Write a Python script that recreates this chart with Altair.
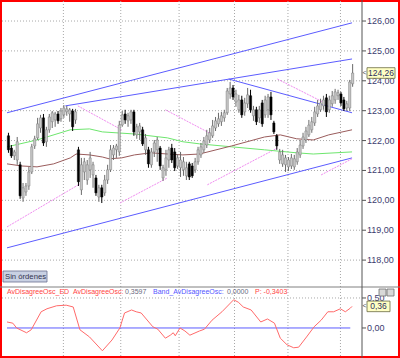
import altair as alt
import pandas as pd

# ---------------- data ----------------
opens = [122.16, 121.75, 121.49, 121.35, 121.19, 120.08, 120.28, 120.48, 120.95, 121.82,
         122.09, 122.42, 122.76, 121.96, 122.36, 122.63, 122.69, 122.89, 122.73, 122.86,
         122.96, 122.89, 122.99, 122.69, 121.69, 120.35, 120.95, 120.68, 121.02, 120.85,
         120.75, 120.11, 120.42, 120.25, 120.68, 121.02, 121.52, 121.69, 121.62, 122.52,
         122.89, 122.66, 122.69, 122.96, 122.19, 122.29, 122.36, 121.69, 121.69, 121.19,
         121.62, 121.69, 121.75, 120.75, 121.02, 121.35, 121.75, 121.62, 121.15, 121.09,
         121.02, 120.82, 121.22, 121.15, 121.02, 121.29, 121.52, 121.69, 121.85, 122.02,
         122.16, 122.42, 122.56, 122.63, 122.76, 122.93, 123.56, 123.76, 123.29, 123.03,
         123.36, 122.96, 123.23, 123.50, 122.83, 123.03, 122.76, 123.26, 122.86, 123.03,
         123.46, 122.59, 122.16, 121.35, 121.22, 121.19, 121.12, 121.15, 121.12, 121.29,
         121.52, 121.82, 122.02, 122.19, 122.36, 122.59, 122.89, 123.03, 123.16, 123.43,
         123.03, 123.23, 123.36, 123.50, 123.56, 123.36, 123.09, 123.09, 123.90]
highs = [122.26, 121.85, 121.69, 122.12, 121.29, 120.58, 120.58, 121.12, 121.89, 122.16,
         122.76, 122.86, 122.89, 122.46, 122.89, 122.99, 122.96, 122.99, 123.09, 123.19,
         123.16, 123.09, 123.06, 123.06, 121.79, 121.42, 121.42, 121.35, 121.62, 121.29,
         120.85, 120.52, 120.52, 120.85, 121.19, 121.85, 121.85, 121.89, 122.66, 122.99,
         123.03, 122.93, 123.03, 123.03, 122.56, 122.59, 122.46, 122.22, 121.79, 121.75,
         122.02, 122.12, 121.82, 121.19, 121.69, 121.79, 121.89, 121.75, 121.55, 121.62,
         121.45, 121.29, 121.29, 121.25, 121.42, 121.79, 121.92, 122.12, 122.36, 122.42,
         122.69, 122.79, 122.93, 122.96, 123.03, 123.76, 123.96, 123.86, 123.70, 123.53,
         123.50, 123.43, 123.76, 123.70, 123.16, 123.13, 123.16, 123.36, 123.50, 123.56,
         123.63, 122.66, 122.22, 121.72, 121.69, 121.52, 121.45, 121.55, 121.52, 121.75,
         122.02, 122.26, 122.46, 122.69, 122.79, 123.13, 123.36, 123.40, 123.50, 123.56,
         123.50, 123.66, 123.73, 123.70, 123.63, 123.46, 123.33, 124.03, 124.56]
lows = [121.59, 121.42, 121.35, 121.19, 120.05, 119.95, 120.15, 120.35, 120.88, 121.72,
        122.02, 122.26, 121.82, 121.79, 122.26, 122.42, 122.46, 122.56, 122.63, 122.76,
        122.83, 122.63, 122.32, 122.56, 120.48, 120.18, 120.68, 120.52, 120.75, 120.42,
        120.15, 119.95, 119.91, 120.15, 120.55, 120.95, 121.35, 121.42, 121.49, 122.46,
        122.56, 122.46, 122.56, 122.16, 122.06, 122.02, 121.82, 121.52, 121.09, 121.09,
        121.45, 121.29, 121.02, 120.65, 120.82, 121.09, 121.25, 120.98, 121.05, 120.78,
        120.82, 120.68, 120.68, 120.75, 120.92, 121.19, 121.42, 121.59, 121.75, 121.92,
        122.09, 122.32, 122.46, 122.49, 122.63, 122.86, 123.40, 123.36, 123.13, 122.93,
        122.76, 122.83, 123.09, 122.93, 122.66, 122.52, 122.59, 122.46, 122.76, 122.76,
        122.69, 122.22, 121.69, 121.22, 121.12, 120.95, 120.98, 121.05, 121.02, 121.19,
        121.42, 121.72, 121.92, 122.12, 122.26, 122.49, 122.79, 122.96, 123.03, 122.79,
        122.93, 123.13, 123.23, 123.36, 123.16, 122.99, 122.99, 122.99, 123.80]
closes = [121.69, 121.49, 121.62, 121.96, 120.15, 120.42, 120.48, 120.95, 121.79, 122.06,
          122.56, 122.76, 121.92, 122.36, 122.79, 122.93, 122.89, 122.66, 122.99, 123.09,
          123.06, 123.03, 122.46, 122.96, 120.62, 121.19, 121.29, 121.19, 121.42, 121.19,
          120.25, 120.42, 120.11, 120.68, 121.02, 121.69, 121.75, 121.82, 122.52, 122.86,
          122.69, 122.83, 122.96, 122.29, 122.46, 122.49, 121.89, 122.09, 121.22, 121.62,
          121.92, 122.02, 121.15, 121.09, 121.42, 121.69, 121.35, 121.09, 121.42, 121.35,
          121.29, 121.09, 120.78, 120.82, 121.29, 121.69, 121.79, 121.99, 122.16, 122.26,
          122.49, 122.66, 122.73, 122.83, 122.93, 123.66, 123.76, 123.46, 123.56, 123.36,
          122.86, 123.26, 123.53, 123.03, 123.03, 122.63, 123.03, 122.56, 123.36, 123.46,
          122.86, 122.29, 121.82, 121.62, 121.52, 121.42, 121.35, 121.42, 121.39, 121.62,
          121.85, 122.12, 122.32, 122.52, 122.63, 122.96, 123.16, 123.26, 123.36, 122.96,
          123.36, 123.50, 123.63, 123.60, 123.26, 123.06, 123.23, 123.96, 124.26]

# trend lines (bar-number, price)
blue_id = [1, 1, 2, 2, 3, 3, 4, 4]
blue_x = [0, 118.3, 20, 118.3, 76, 118.3, 0, 118.3]
blue_p = [122.93, 125.94, 123.16, 124.73, 124.06, 122.93, 118.41, 121.42]

pink_id = [1, 1, 2, 2, 3, 3, 4, 4, 5, 5, 6, 6, 7, 7]
pink_x = [24.3, 39.3, 54.3, 69.3, 92.7, 108.3, 0, 25, 38.7, 55, 68.7, 92.7, 107.7, 118.3]
pink_p = [123.16, 122.36, 123.03, 122.26, 124.06, 123.29, 119.11, 120.55,
          119.91, 120.75, 120.52, 121.75, 120.85, 121.39]

ma_green_x = [0, 10.3, 21.7, 28.3, 32.7, 43.7, 55, 60.3, 66, 77, 88.3, 99.3, 105, 118.3]
ma_green_p = [121.79, 122.02, 122.36, 122.39, 122.29, 122.22, 122.09, 121.96, 121.89,
              121.79, 121.69, 121.59, 121.55, 121.62]

ma_brown_x = [0, 5, 10.3, 16, 21.7, 23.7, 28.3, 32.7, 35, 39.3, 43.7, 49.3, 55, 60.3,
              66, 77, 88.3, 93.7, 99.3, 105, 110.3, 118.3]
ma_brown_p = [121.22, 121.15, 121.12, 121.22, 121.42, 121.55, 121.52, 121.45, 121.39,
              121.42, 121.52, 121.59, 121.55, 121.52, 121.55, 121.82, 122.12, 122.19,
              122.06, 122.02, 122.19, 122.36]

osc_x = [0, 2, 3.3, 6.7, 8.3, 11.7, 13.7, 17, 20.3, 22.7, 25, 28.3, 32.7, 36, 38.7,
         40.3, 42.7, 44.3, 46, 50, 51.7, 54.3, 56, 57, 57.7, 59.3, 61, 62.7, 66, 67.7,
         70.3, 73.7, 77.7, 79.3, 81, 83.7, 87, 89.3, 91.7, 93.7, 96, 98.3, 100, 102.7,
         105.3, 107.7, 110, 112, 114.3, 116, 117.7, 118.3]
osc_v = [0.10, 0.08, 0.0, -0.08, -0.03, 0.27, 0.32, 0.37, 0.38, 0.35, -0.03, -0.15,
         -0.38, -0.20, 0.0, 0.25, 0.30, 0.27, 0.25, 0.02, -0.02, -0.17, -0.12, -0.08,
         -0.13, 0.0, -0.05, -0.12, -0.05, -0.02, 0.13, 0.27, 0.47, 0.43, 0.35, 0.30,
         0.10, 0.15, 0.08, -0.17, -0.28, -0.33, -0.32, -0.15, 0.02, 0.13, 0.27, 0.27,
         0.32, 0.27, 0.33, 0.36]
band_x = [0, 117.7]
band_v = [0.0, 0.0]

price_ticks = [118, 119, 120, 121, 122, 123, 124, 125, 126]
price_labels = ["118,00", "119,00", "120,00", "121,00", "122,00", "123,00", "124,00",
                "125,00", "126,00"]
osc_ticks = [0.0, 0.5]
osc_labels = ["0,00", "0,50"]
osc_grid = [0.5]
vgrid_x = [19.33, 39, 59, 78, 96.33, 114.33]

last_price = [124.26]
last_price_label = ["124,26"]
last_osc = [0.36]
last_osc_label = ["0,36"]

# ---------------- frames ----------------
candles = pd.DataFrame({"x": [i + 0.5 for i in range(len(opens))],
                        "o": opens, "h": highs, "l": lows, "c": closes})
blue_df = pd.DataFrame({"id": blue_id, "x": blue_x, "p": blue_p})
pink_df = pd.DataFrame({"id": pink_id, "x": pink_x, "p": pink_p})
green_df = pd.DataFrame({"x": ma_green_x, "p": ma_green_p})
brown_df = pd.DataFrame({"x": ma_brown_x, "p": ma_brown_p})
osc_df = pd.DataFrame({"x": osc_x, "v": osc_v})
band_df = pd.DataFrame({"x": band_x, "v": band_v})
ptick_df = pd.DataFrame({"p": price_ticks, "t": price_labels})
otick_df = pd.DataFrame({"v": osc_ticks, "t": osc_labels})
ptag_df = pd.DataFrame({"p": last_price, "t": last_price_label})
otag_df = pd.DataFrame({"v": last_osc, "t": last_osc_label})

FONT = "Liberation Sans"
AXC = "#555555"
LABC = "#3c3c6e"
xs = alt.Scale(domain=[0, 120], range=[2, 362], nice=False, zero=False)
ps = alt.Scale(domain=[117.10, 126.67], range=[287, 1], nice=False, zero=False)
os_ = alt.Scale(domain=[-0.467, 0.683], range=[356, 287], nice=False, zero=False)
X = lambda f="x": alt.X(f"{f}:Q", scale=xs, axis=None)
P = lambda f="p": alt.Y(f"{f}:Q", scale=ps, axis=None)
V = lambda f="v": alt.Y(f"{f}:Q", scale=os_, axis=None)

up = "datum.c >= datum.o"

pgrid = alt.Chart(ptick_df).mark_rule(
    color="#a8a8a8", strokeDash=[1, 2]).encode(y=P(), x=alt.value(2), x2=alt.value(362))
vgrid = alt.Chart(pd.DataFrame({"x": vgrid_x})).mark_rule(
    color="#a8a8a8", strokeDash=[1, 2]).encode(x=X(), y=alt.value(1), y2=alt.value(356))
blue = alt.Chart(blue_df).mark_line(color="#5c5cff", strokeWidth=1).encode(
    x=X(), y=P(), detail="id:N")
pink = alt.Chart(pink_df).mark_line(color="#f08cf0", strokeWidth=1, strokeDash=[2, 1]).encode(
    x=X(), y=P(), detail="id:N")
green = alt.Chart(green_df).mark_line(color="#6ee66e", strokeWidth=1).encode(x=X(), y=P())
brown = alt.Chart(brown_df).mark_line(color="#9a5c5c", strokeWidth=1).encode(x=X(), y=P())
wicks = alt.Chart(candles).mark_rule(strokeWidth=1).encode(
    x=X(), y=P("l"), y2="h:Q",
    color=alt.condition(up, alt.value("#6a6a6a"), alt.value("#000000")))
bodies = alt.Chart(candles).mark_bar(size=2.2, strokeWidth=0.5).encode(
    x=X(), y=P("o"), y2="c:Q",
    fill=alt.condition(up, alt.value("#c8c8c8"), alt.value("#000000")),
    stroke=alt.condition(up, alt.value("#7a7a7a"), alt.value("#000000")))
pticks = alt.Chart(ptick_df).mark_rule(color=AXC).encode(
    y=P(), x=alt.value(362), x2=alt.value(366))
plabels = alt.Chart(ptick_df).mark_text(font=FONT, fontSize=9, color=LABC, align="left",
                                       baseline="middle").encode(
    y=P(), x=alt.value(367), text="t:N")
ptagbox = alt.Chart(ptag_df).mark_point(
    shape="M-1,-0.38L1,-0.38L1,0.38L-1,0.38Z", size=784, filled=True, fill="#ffffc4",
    stroke="#6a6a40", strokeWidth=0.8, opacity=1).encode(y=P(), x=alt.value(381))
ptagtxt = alt.Chart(ptag_df).mark_text(font=FONT, fontSize=8.5, color="#2f2f60",
                                      baseline="middle").encode(
    y=P(), x=alt.value(381), text="t:N")
ptagarr = alt.Chart(ptag_df).mark_text(text="<", font=FONT, fontSize=7, color=AXC,
                                      baseline="middle", align="left").encode(
    y=P(), x=alt.value(362.5))

price_layer = alt.layer(pgrid, vgrid, blue, pink, green, brown, wicks, bodies,
                        pticks, plabels, ptagbox, ptagtxt, ptagarr)

ogrid = alt.Chart(pd.DataFrame({"v": osc_grid})).mark_rule(
    color="#a8a8a8", strokeDash=[1, 2]).encode(y=V(), x=alt.value(2), x2=alt.value(362))
band = alt.Chart(band_df).mark_line(color="#5c5cff", strokeWidth=1).encode(x=X(), y=V())
osc = alt.Chart(osc_df).mark_line(color="#ff6a6a", strokeWidth=1).encode(x=X(), y=V())
oticks = alt.Chart(otick_df).mark_rule(color=AXC).encode(
    y=V(), x=alt.value(362), x2=alt.value(366))
olabels = alt.Chart(otick_df).mark_text(font=FONT, fontSize=9, color=LABC, align="left",
                                       baseline="middle").encode(
    y=V(), x=alt.value(367), text="t:N")
otagbox = alt.Chart(otag_df).mark_point(
    shape="M-1,-0.46L1,-0.46L1,0.46L-1,0.46Z", size=529, filled=True, fill="#ffffc4",
    stroke="#6a6a40", strokeWidth=0.8, opacity=1).encode(y=V(), x=alt.value(378.5))
otagtxt = alt.Chart(otag_df).mark_text(font=FONT, fontSize=8.5, color="#2f2f60",
                                      baseline="middle").encode(
    y=V(), x=alt.value(378.5), text="t:N")
otagarr = alt.Chart(otag_df).mark_text(text="<", font=FONT, fontSize=7, color=AXC,
                                      baseline="middle", align="left").encode(
    y=V(), x=alt.value(362.5))
osc_layer = alt.layer(ogrid, band, osc, oticks, olabels, otagbox, otagtxt, otagarr)

# ---------------- annotations ----------------
one = pd.DataFrame({"k": [0]})
def box(x1, x2, y1, y2, fill, stroke):
    return alt.Chart(one).mark_rect(fill=fill, stroke=stroke, strokeWidth=0.8).encode(
        x=alt.value(x1), x2=alt.value(x2), y=alt.value(y1), y2=alt.value(y2))
def txt(s, x, y, color, size, align="left"):
    return alt.Chart(one).mark_text(text=s, font=FONT, fontSize=size, color=color,
                                    align=align, baseline="middle").encode(
        x=alt.value(x), y=alt.value(y))

sep = alt.Chart(one).mark_rule(color="#808080").encode(
    x=alt.value(0), x2=alt.value(400), y=alt.value(287))
axis_line = alt.Chart(one).mark_rule(color=AXC).encode(
    x=alt.value(362), y=alt.value(0), y2=alt.value(358))
annots = [
    sep, axis_line,
    box(3, 47, 271, 282, "#c9d1e3", "#6a7090"),
    txt("Sin órdenes", 5, 276.5, "#33334f", 7.7),
    box(379, 386, 289, 296, "#d8d8d8", "#707070"),
    box(387, 394, 289, 296, "#d8d8d8", "#707070"),
    txt("AvDisagreeOsc_ED", 7, 292, "#ff4444", 7),
    txt("AvDisagreeOsc:", 73, 292, "#ff4444", 7),
    txt("0,3597", 125, 292, "#6a6a80", 7),
    txt("Band_AvDisagreeOsc:", 153, 292, "#5555ff", 7),
    txt("0,0000", 227, 292, "#6a6a80", 7),
    txt("P: -0,3403", 255, 292, "#ff4444", 7),
]

chart = alt.layer(price_layer, osc_layer, *annots).resolve_scale(y="independent").properties(
    width=400, height=358, autosize=alt.AutoSizeParams(type="none"), padding=0,
    background="white"
).configure_view(stroke="#ff0000", strokeWidth=4)

chart.save("out.html", embed_options={"renderer": "svg", "actions": False})
